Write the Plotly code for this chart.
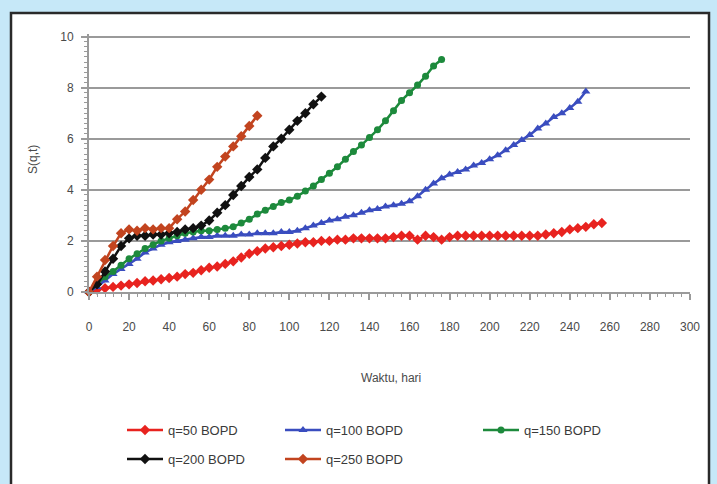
import plotly.graph_objects as go

# ---------------- data ----------------
days_q50 = [0, 4, 8, 12, 16, 20, 24, 28, 32, 36, 40, 44, 48, 52, 56, 60, 64, 68, 72, 76, 80,
            84, 88, 92, 96, 100, 104, 108, 112, 116, 120, 124, 128, 132, 136, 140, 144, 148,
            152, 156, 160, 164, 168, 172, 176, 180, 184, 188, 192, 196, 200, 204, 208, 212,
            216, 220, 224, 228, 232, 236, 240, 244, 248, 252, 256]
s_q50 = [0, 0.1, 0.15, 0.2, 0.25, 0.3, 0.35, 0.42, 0.45, 0.5, 0.55, 0.6, 0.7, 0.75, 0.85, 0.95,
         1.0, 1.1, 1.2, 1.35, 1.5, 1.6, 1.7, 1.75, 1.8, 1.85, 1.9, 1.95, 1.95, 2.0, 2.0, 2.05,
         2.05, 2.1, 2.1, 2.1, 2.1, 2.1, 2.15, 2.2, 2.2, 2.05, 2.2, 2.15, 2.05, 2.15, 2.2, 2.2,
         2.2, 2.2, 2.2, 2.2, 2.2, 2.2, 2.2, 2.2, 2.2, 2.25, 2.3, 2.35, 2.45, 2.5, 2.55, 2.65, 2.7]

days_q100 = [0, 4, 8, 12, 16, 20, 24, 28, 32, 36, 40, 44, 48, 52, 56, 60, 64, 68, 72, 76, 80,
             84, 88, 92, 96, 100, 104, 108, 112, 116, 120, 124, 128, 132, 136, 140, 144, 148,
             152, 156, 160, 164, 168, 172, 176, 180, 184, 188, 192, 196, 200, 204, 208, 212,
             216, 220, 224, 228, 232, 236, 240, 244, 248]
s_q100 = [0, 0.2, 0.45, 0.7, 0.9, 1.1, 1.3, 1.55, 1.7, 1.85, 1.95, 2.0, 2.05, 2.1, 2.15, 2.15,
          2.2, 2.2, 2.2, 2.25, 2.25, 2.3, 2.3, 2.3, 2.35, 2.35, 2.4, 2.5, 2.6, 2.7, 2.8, 2.85,
          2.95, 3.0, 3.1, 3.2, 3.25, 3.35, 3.4, 3.45, 3.55, 3.75, 4.0, 4.25, 4.45, 4.6, 4.7,
          4.8, 4.95, 5.05, 5.2, 5.35, 5.55, 5.75, 5.95, 6.15, 6.4, 6.6, 6.85, 7.0, 7.2, 7.45, 7.85]

days_q150 = [0, 4, 8, 12, 16, 20, 24, 28, 32, 36, 40, 44, 48, 52, 56, 60, 64, 68, 72, 76, 80,
             84, 88, 92, 96, 100, 104, 108, 112, 116, 120, 124, 128, 132, 136, 140, 144, 148,
             152, 156, 160, 164, 168, 172, 176]
s_q150 = [0, 0.3, 0.6, 0.8, 1.05, 1.3, 1.5, 1.7, 1.85, 2.0, 2.1, 2.2, 2.3, 2.35, 2.4, 2.4,
          2.45, 2.5, 2.55, 2.7, 2.85, 3.05, 3.2, 3.35, 3.5, 3.6, 3.75, 3.95, 4.15, 4.4, 4.65,
          4.9, 5.2, 5.5, 5.75, 6.05, 6.35, 6.7, 7.1, 7.5, 7.8, 8.1, 8.45, 8.85, 9.1]

days_q200 = [0, 4, 8, 12, 16, 20, 24, 28, 32, 36, 40, 44, 48, 52, 56, 60, 64, 68, 72, 76, 80,
             84, 88, 92, 96, 100, 104, 108, 112, 116]
s_q200 = [0, 0.3, 0.8, 1.3, 1.8, 2.1, 2.2, 2.2, 2.25, 2.25, 2.3, 2.35, 2.45, 2.5, 2.6, 2.8,
          3.1, 3.4, 3.8, 4.15, 4.5, 4.8, 5.25, 5.7, 6.0, 6.35, 6.7, 7.0, 7.35, 7.65]

days_q250 = [0, 4, 8, 12, 16, 20, 24, 28, 32, 36, 40, 44, 48, 52, 56, 60, 64, 68, 72, 76, 80, 84]
s_q250 = [0, 0.6, 1.25, 1.8, 2.3, 2.45, 2.4, 2.5, 2.45, 2.5, 2.5, 2.85, 3.15, 3.6, 4.0, 4.4,
          4.9, 5.3, 5.7, 6.1, 6.5, 6.9]

series_names = ["q=50 BOPD", "q=100 BOPD", "q=150 BOPD", "q=200 BOPD", "q=250 BOPD"]
x_ticks = [0, 20, 40, 60, 80, 100, 120, 140, 160, 180, 200, 220, 240, 260, 280, 300]
y_ticks = [0, 2, 4, 6, 8, 10]
x_title = "Waktu, hari"
y_title = "S(q,t)"

# ---------------- styling ----------------
W, H = 717, 484
ML, MR, MT, MB = 89, 27, 34, 192
FONT = "Liberation Sans, Arial, sans-serif"
TXT = "#4a4a4a"

series = [
    (days_q50, s_q50, "#e8231f", "diamond", 8, "legend"),
    (days_q100, s_q100, "#3a4dbf", "triangle-up", 8, "legend2"),
    (days_q150, s_q150, "#1d8a3c", "circle", 7, "legend3"),
    (days_q200, s_q200, "#111111", "diamond", 8, "legend4"),
    (days_q250, s_q250, "#c2441f", "diamond", 8, "legend5"),
]

fig = go.Figure()
for (xs, ys, col, sym, sz, lg), name in zip(series, series_names):
    fig.add_trace(go.Scatter(
        x=xs, y=ys, name=name, mode="lines+markers",
        line=dict(color=col, width=2.5),
        marker=dict(color=col, symbol=sym, size=sz, line=dict(width=0)),
        cliponaxis=False, legend=lg,
    ))

def cx(px):
    return px / W

def cy(py):
    return 1 - py / H

pw = W - ML - MR
ph = H - MT - MB

def px2paper_x(px):
    return (px - ML) / pw

def py2paper_y(py):
    return (H - MB - py) / ph

# legend positions (container coords) : left x, centre y
leg_pos = {
    "legend": (122, 430),
    "legend2": (280, 430),
    "legend3": (478, 430),
    "legend4": (122, 459),
    "legend5": (280, 459),
}
legends = {}
for key, (lx, ly) in leg_pos.items():
    legends[key] = dict(
        x=cx(lx), y=cy(ly), xref="container", yref="container",
        xanchor="left", yanchor="middle", bgcolor="rgba(0,0,0,0)",
        font=dict(family=FONT, size=13, color="#3a3a3a"),
        itemwidth=36, borderwidth=0, tracegroupgap=0,
    )

fig.add_shape(type="rect", xref="paper", yref="paper",
              x0=px2paper_x(11), x1=px2paper_x(709),
              y0=py2paper_y(500), y1=py2paper_y(13),
              fillcolor="white", line=dict(color="#2a2a2a", width=2.5), layer="below")

fig.update_layout(
    width=W, height=H,
    margin=dict(l=ML, r=MR, t=MT, b=MB, autoexpand=False),
    paper_bgcolor="#c6e8f8",
    plot_bgcolor="white",
    font=dict(family=FONT, size=12, color=TXT),
    showlegend=True,
    **legends,
    annotations=[
        dict(text=y_title, x=px2paper_x(33), y=py2paper_y(160), xref="paper", yref="paper",
             xanchor="center", yanchor="middle",
             textangle=-90, showarrow=False, font=dict(family=FONT, size=12, color=TXT)),
        dict(text=x_title, x=px2paper_x(391), y=py2paper_y(378), xref="paper", yref="paper",
             xanchor="center", yanchor="middle",
             showarrow=False, font=dict(family=FONT, size=12, color=TXT)),
    ],
)

fig.update_xaxes(
    range=[0, 300], autorange=False, tickvals=x_ticks, ticktext=[str(v) for v in x_ticks],
    showgrid=False, zeroline=False, automargin=False,
    showline=True, linecolor="#9a9a9a", linewidth=2,
    ticks="outside", ticklen=6, tickwidth=1.5, tickcolor="#9a9a9a",
    minor=dict(dtick=4, ticks="outside", ticklen=3, tickcolor="#9a9a9a", tickwidth=1),
    ticklabelstandoff=17,
    tickfont=dict(family=FONT, size=12, color=TXT),
)
fig.update_yaxes(
    range=[0, 10.1], autorange=False, tickvals=y_ticks, ticktext=[str(v) for v in y_ticks],
    showgrid=True, gridcolor="#9a9a9a", gridwidth=2, zeroline=False, automargin=False,
    showline=True, linecolor="#9a9a9a", linewidth=2, mirror=False,
    ticks="outside", ticklen=6, tickwidth=1.5, tickcolor="#9a9a9a",
    minor=dict(dtick=0.2, ticks="outside", ticklen=3, tickcolor="#9a9a9a", tickwidth=1,
               showgrid=False),
    ticklabelstandoff=5,
    tickfont=dict(family=FONT, size=12, color=TXT),
)

fig.write_html(
    "out.html",
    config={"displayModeBar": False},
    post_script="document.body.style.margin='0';document.body.style.padding='0';"
                "document.body.style.background='#c6e8f8';",
)
